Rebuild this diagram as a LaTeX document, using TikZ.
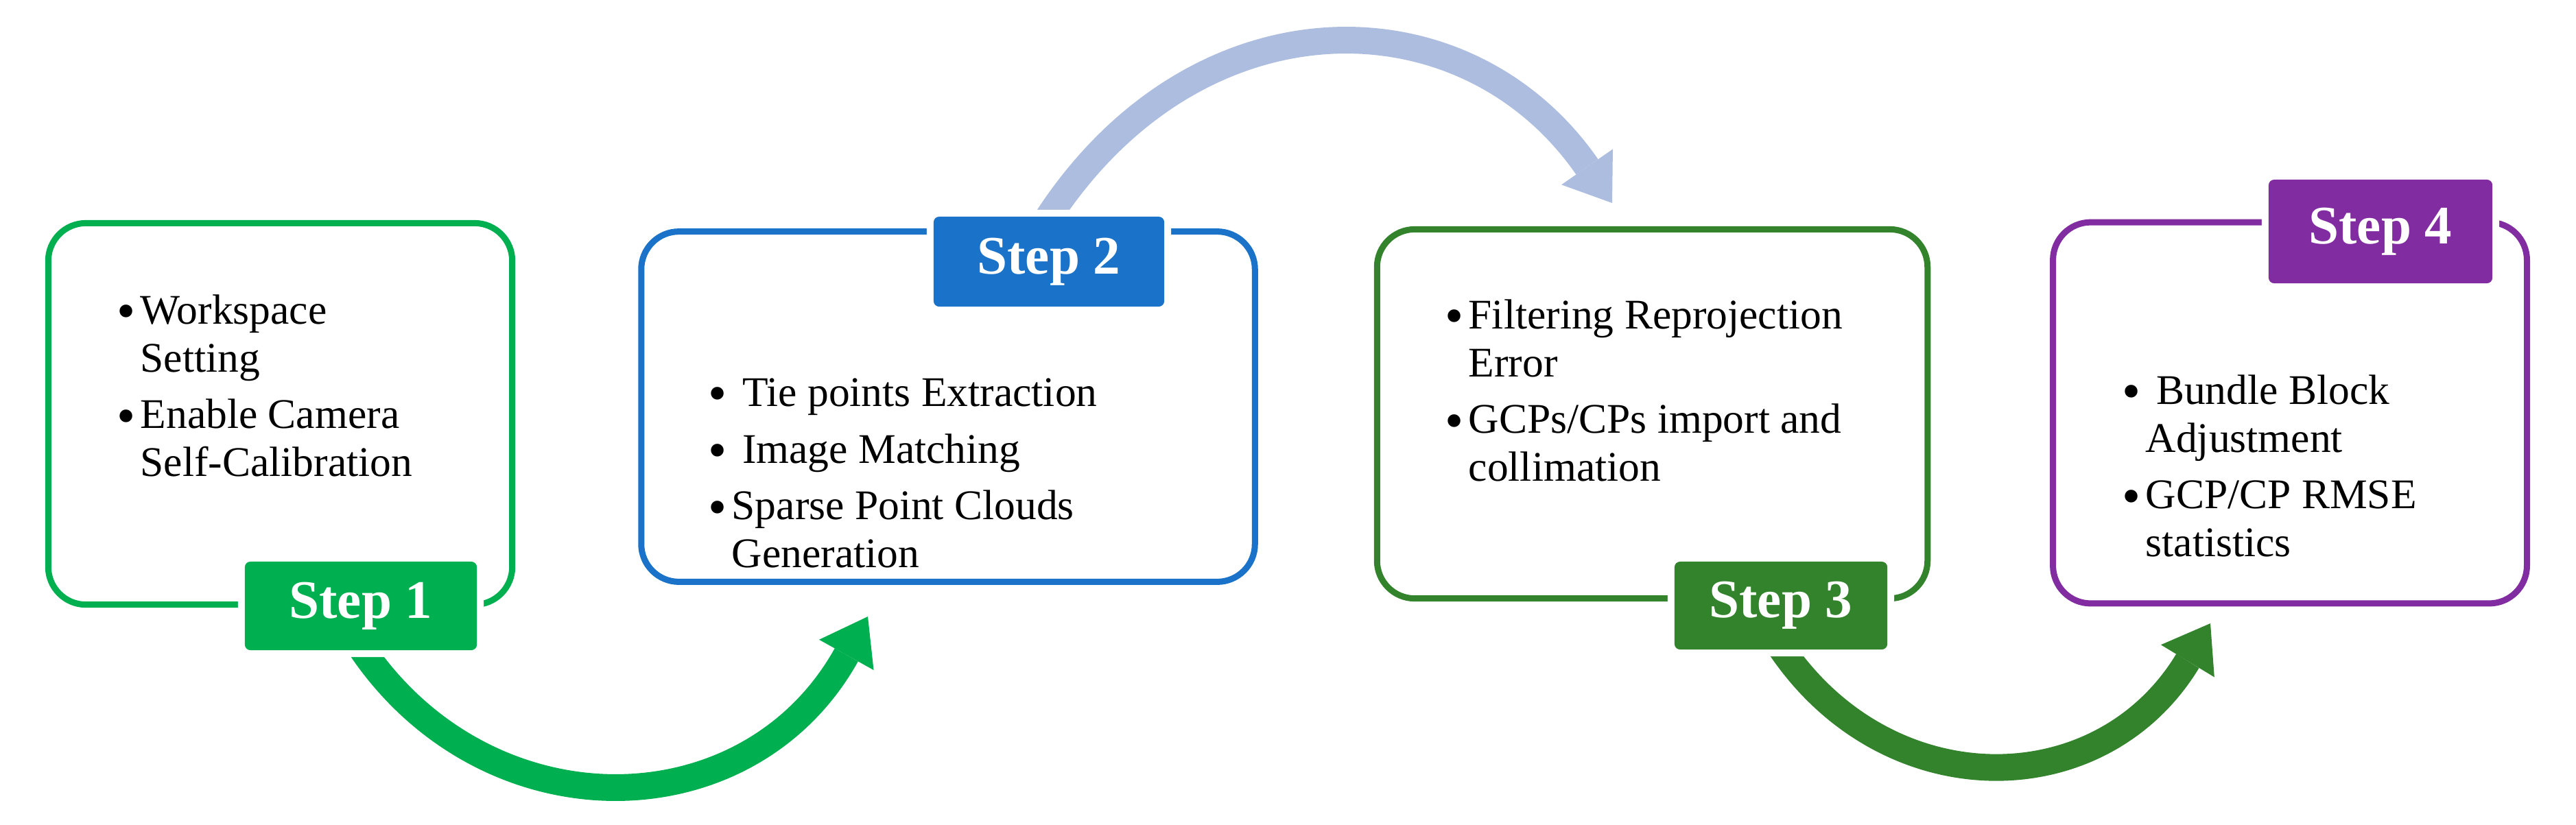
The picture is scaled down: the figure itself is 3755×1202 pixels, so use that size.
\documentclass[tikz,border=0pt]{standalone}
\usepackage{fontspec}
\setmainfont{Liberation Serif}
\usetikzlibrary{arrows.meta,backgrounds}

\definecolor{stepgreen}{HTML}{00B050}
\definecolor{stepblue}{HTML}{1A73C8}
\definecolor{stepdkgreen}{HTML}{32832C}
\definecolor{steppurple}{HTML}{812CA0}
\definecolor{arclight}{HTML}{ADBDDF}

\newcommand{\bigdot}{\raisebox{-2.2pt}{\fontsize{22pt}{0pt}\selectfont\textbullet}}
\newcommand{\bitem}[1]{\par\noindent\hangindent=0.34cm\hangafter=1\makebox[0.34cm][l]{\bigdot}#1\par}
\newcommand{\itemgap}{\vspace{0.13cm}}

\begin{document}
\begin{tikzpicture}[x=0.01cm, y=-0.01cm,
    stepbox/.style={draw, line width=0.09cm, rounded corners=0.55cm, inner sep=0pt},
    steplabel/.style={rounded corners=0.08cm, inner sep=0pt, text=white,
        font=\fontsize{22.5pt}{26pt}\selectfont\bfseries,
        preaction={draw=white, line width=0.2cm}},
    itemtext/.style={anchor=base west, inner sep=0pt, font=\fontsize{17.5pt}{19.9pt}\selectfont},
    flowarc/.style={line width=0.39cm, -{Triangle[length=0.64cm, width=0.91cm, line width=0pt]}}]

    \useasboundingbox (0,0) rectangle (3755,1202);

    % boxes
    \node[stepbox, draw=stepgreen, minimum width=6.76cm, minimum height=5.56cm] (box1) at (408.5,603.5) {};
    \node[stepbox, draw=stepblue, minimum width=8.94cm, minimum height=5.105cm] (box2) at (1382,593) {};
    \node[stepbox, draw=stepdkgreen, minimum width=8.02cm, minimum height=5.38cm] (box3) at (2408.5,603.5) {};
    \node[stepbox, draw=steppurple, minimum width=6.905cm, minimum height=5.555cm] (box4) at (3338,602) {};

    % step labels, the white preaction cuts the box border
    \node[steplabel, fill=stepgreen, minimum width=3.38cm, minimum height=1.29cm] (s1) at (526,883.5) {Step 1};
    \node[steplabel, fill=stepblue, minimum width=3.36cm, minimum height=1.31cm] (s2) at (1529,381.5) {Step 2};
    \node[steplabel, fill=stepdkgreen, minimum width=3.10cm, minimum height=1.28cm] (s3) at (2596,883) {Step 3};
    \node[steplabel, fill=steppurple, minimum width=3.26cm, minimum height=1.51cm] (s4) at (3470,337.5) {Step 4};

    \node[itemtext] (t1) at (170,472) {\parbox[t]{6cm}{%
        \bitem{Workspace\\Setting}\itemgap
        \bitem{Enable Camera\\Self-Calibration}}};
    \node[itemtext] (t2) at (1032,592) {\parbox[t]{7cm}{%
        \bitem{\ Tie points Extraction}\itemgap
        \bitem{\ Image Matching}\itemgap
        \bitem{Sparse Point Clouds\\Generation}}};
    \node[itemtext] (t3) at (2106,479) {\parbox[t]{7cm}{%
        \bitem{Filtering Reprojection\\Error}\itemgap
        \bitem{GCPs/CPs import and\\collimation}}};
    \node[itemtext] (t4) at (3093,589) {\parbox[t]{6cm}{%
        \bitem{\ Bundle Block\\Adjustment}\itemgap
        \bitem{GCP/CP RMSE\\statistics}}};

    \coordinate (a1end) at (1265,899);
    \coordinate (a2end) at (2350,296);
    \coordinate (a3end) at (3222,909);

    % arcs go below the labels
    \begin{scope}[on background layer]
        \fill[white] (0,0) rectangle (3755,1202);
        \draw[flowarc, stepgreen] ([shift={(-7,-15)}]s1.south) .. controls +(181,283) and +(-177,317) .. (a1end);
        \draw[flowarc, arclight] ([shift={(-9,14)}]s2.north) .. controls +(217,-345.5) and +(-216,-311.5) .. (a2end);
        \draw[flowarc, stepdkgreen] ([shift={(-6,-12)}]s3.south) .. controls +(155,240) and +(-161,266) .. (a3end);
    \end{scope}
\end{tikzpicture}
\end{document}
